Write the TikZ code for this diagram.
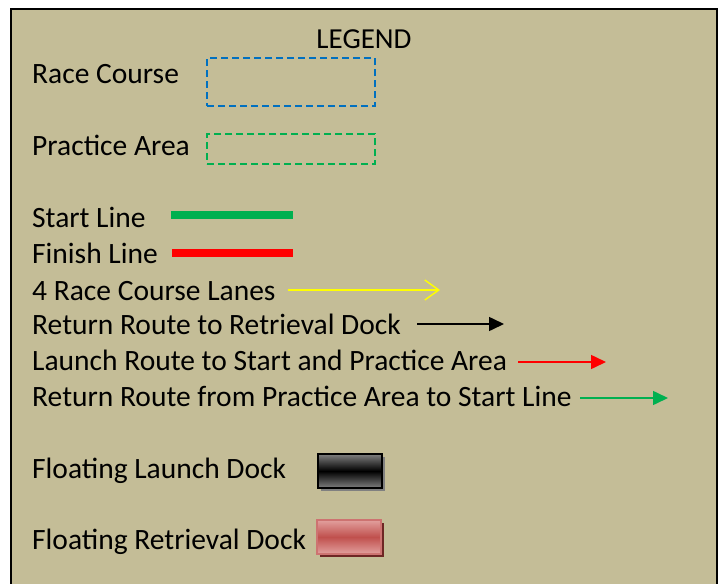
\documentclass[tikz,border=0pt]{standalone}
\usepackage{fontspec}
\setmainfont{Carlito}
\usetikzlibrary{arrows.meta, positioning, shadows}
\definecolor{ltan}{HTML}{C4BD97}
\definecolor{lblue}{HTML}{0070C0}
\definecolor{lgreen}{HTML}{00B050}
\definecolor{lred}{HTML}{FF0000}
\definecolor{lyellow}{HTML}{FFFF00}
\definecolor{ldockred}{HTML}{C0504D}
\definecolor{ldockpink}{HTML}{E2A09E}
\definecolor{ldockshade}{HTML}{6E2624}
\definecolor{ldockgray}{HTML}{808080}
\tikzset{
  item/.style={anchor=base west, inner sep=0pt, text=black, font=\fontsize{29.5}{34}\selectfont},
  area/.style={rectangle, dashed, dash pattern=on 7pt off 4pt, line width=1.3pt,
               minimum width=168pt, inner sep=0pt},
  bar/.style={line width=8pt},
  route/.style={-{Triangle[length=15pt, width=14pt]}, line width=1.6pt},
  lane/.style={-{Straight Barb[length=14pt, width=20pt]}, draw=lyellow, line width=1.4pt},
  dock/.style={rectangle, minimum width=64pt, minimum height=34pt, inner sep=0pt,
               line width=2pt}
}
\begin{document}
\begin{tikzpicture}[x=1pt, y=-1pt]
  \useasboundingbox (0,0) rectangle (724,584);
  \fill[ltan] (11,9) rectangle (717,584);
  \draw[line width=2pt] (11,584) |- (717,9) -- (717,584);

  \node[anchor=base, inner sep=0pt, font=\fontsize{29}{34}\selectfont] (title) at (364,48) {LEGEND};

  % areas
  \node[item] (race) at (32,83) {Race Course};
  \node[area, draw=lblue, minimum height=48pt] (racebox) at (291,82) {};
  \node[item] (practice) at (32,155) {Practice Area};
  \node[area, draw=lgreen, minimum height=30pt] (practicebox) at (291,149) {};

  % lines
  \node[item] (start) at (32,227) {Start Line};
  \coordinate (startA) at (171,215);
  \coordinate (startB) at (293,215);
  \draw[bar, lgreen] (startA) -- (startB);
  \node[item] (finish) at (32,263) {Finish Line};
  \coordinate (finishA) at (172,253);
  \coordinate (finishB) at (293,253);
  \draw[bar, lred] (finishA) -- (finishB);

  % routes
  \node[item] (lanes) at (32,300) {4 Race Course Lanes};
  \coordinate (lanesA) at (288,290);
  \coordinate (lanesB) at (440,290);
  \draw[lane] (lanesA) -- (lanesB);
  \node[item] (retrieve) at (32,334) {Return Route to Retrieval Dock};
  \coordinate (retrieveA) at (417,324);
  \coordinate (retrieveB) at (504,324);
  \draw[route, black] (retrieveA) -- (retrieveB);
  \node[item] (launch) at (32,370) {Launch Route to Start and Practice Area};
  \coordinate (launchA) at (518,362);
  \coordinate (launchB) at (606,362);
  \draw[route, lred] (launchA) -- (launchB);
  \node[item] (back) at (32,406) {Return Route from Practice Area to Start Line};
  \coordinate (backA) at (580,398);
  \coordinate (backB) at (668,398);
  \draw[route, lgreen] (backA) -- (backB);

  % docks
  \node[item] (launchdock) at (32,478) {Floating Launch Dock};
  \node[dock, draw=black, top color=ldockgray, bottom color=ldockgray, middle color=black,
        drop shadow={shadow xshift=3pt, shadow yshift=-3pt, fill=ldockgray, opacity=1}]
        (launchsym) at (350,471) {};
  \node[item] (retrievedock) at (32,549) {Floating Retrieval Dock};
  \node[dock, draw=ldockred!80!white, top color=ldockpink, bottom color=ldockpink, middle color=ldockred,
        drop shadow={shadow xshift=3pt, shadow yshift=-3pt, fill=ldockshade, opacity=1}]
        (retrievesym) at (349,537) {};
\end{tikzpicture}
\end{document}
